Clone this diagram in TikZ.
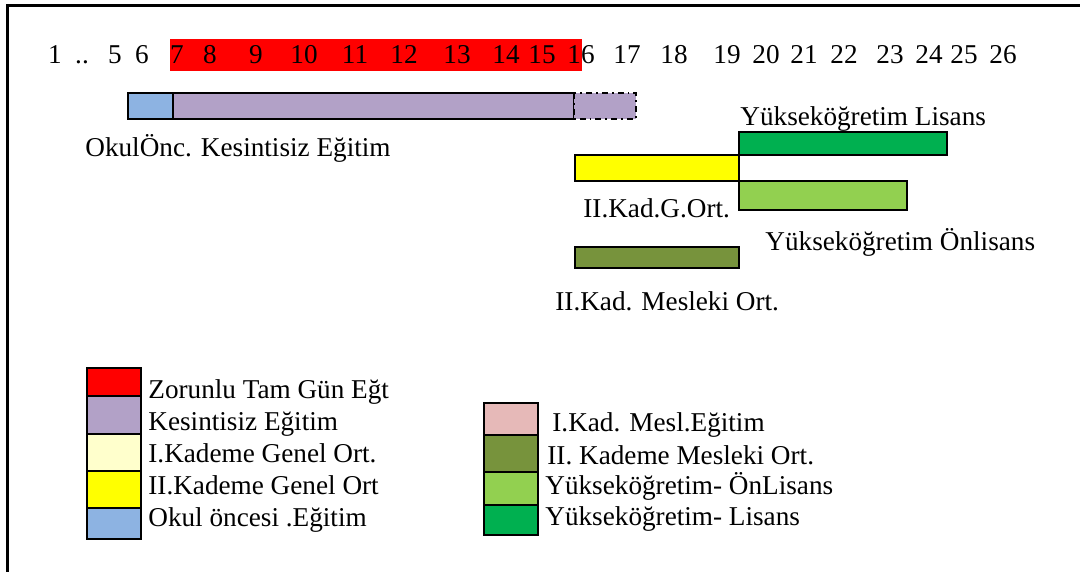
\documentclass[tikz,border=0pt]{standalone}
\usepackage{fontspec}
\setmainfont{Liberation Serif}
\usetikzlibrary{positioning}

\definecolor{zorunlu}{HTML}{FF0000}
\definecolor{kesintisiz}{HTML}{B2A1C7}
\definecolor{okulonc}{HTML}{8DB3E2}
\definecolor{birkademe}{HTML}{FFFFCC}
\definecolor{ikikademe}{HTML}{FFFF00}
\definecolor{birmesl}{HTML}{E6B9B8}
\definecolor{ikimesl}{HTML}{77933C}
\definecolor{onlisans}{HTML}{92D050}
\definecolor{lisans}{HTML}{00B050}

\begin{document}
\begin{tikzpicture}[x=0.5pt,y=-0.5pt,font=\fontsize{13.6}{16}\selectfont]
  \tikzstyle{bar}=[draw=black,line width=1pt]
  \tikzstyle{key}=[draw=black,line width=1.4pt]
  \tikzstyle{lbl}=[inner sep=0pt,anchor=base west]
  \tikzstyle{age}=[inner sep=0pt,anchor=base]

  \useasboundingbox (0,0) rectangle (1080,572);
  \draw[line width=1.5pt] (1080,6) -- (7,6) -- (7,572);

  % ages
  \fill[zorunlu] (170,39) rectangle (582,71);
  \foreach \n/\x [count=\i] in {1/55,../82,5/115,6/142,7/177,8/210,9/256,10/304,
      11/355,12/404,13/457,14/506,15/542,16/581,17/627,18/674,19/727,20/766,
      21/804,22/844,23/890,24/929,25/964,26/1003}
    \node[age] (age\i) at (\x,64) {\n};

  % bars
  \draw[bar,fill=okulonc] (128,93) rectangle (173,119);
  \draw[bar,fill=kesintisiz] (173,93) rectangle (574,119);
  \fill[kesintisiz] (574,93) rectangle (636,119);
  \draw[line width=0.9pt,dash dot] (574,93) rectangle (636,119);
  \node[lbl] (kesLbl) at (85,157) {OkulÖnc. Kesintisiz Eğitim};

  \draw[bar,fill=lisans] (739,132) rectangle (947,155);
  \draw[bar,fill=ikikademe] (575,155) rectangle (739,181);
  \draw[bar,fill=onlisans] (739,181) rectangle (907,210);
  \draw[bar,fill=ikimesl] (575,247) rectangle (739,268);
  \node[lbl] (lisLbl) at (740,126) {Yükseköğretim Lisans};
  \node[lbl] (gortLbl) at (583,218) {II.Kad.G.Ort.};
  \node[lbl] (onlLbl) at (765,250) {Yükseköğretim Önlisans};
  \node[lbl] (meslLbl) at (555,310) {II.Kad. Mesleki Ort.};

  % legend
  \foreach \c/\t/\b/\txt/\y [count=\i] in {
      zorunlu/368/396/{Zorunlu Tam Gün Eğt}/398,
      kesintisiz/396/434/{Kesintisiz Eğitim}/430,
      birkademe/434/471/{I.Kademe Genel Ort.}/462,
      ikikademe/471/508/{II.Kademe Genel Ort}/494,
      okulonc/508/539/{Okul öncesi .Eğitim}/526} {
    \draw[key,fill=\c] (87,\t) rectangle (141,\b);
    \node[lbl] (keyL\i) at (148,\y) {\txt};
  }
  \foreach \c/\t/\b/\txt/\x/\y [count=\i] in {
      birmesl/403/435/{I.Kad. Mesl.Eğitim}/552/431,
      ikimesl/435/472/{II. Kademe Mesleki Ort.}/547/464,
      onlisans/472/505/{Yükseköğretim- ÖnLisans}/545/494,
      lisans/505/535/{Yükseköğretim- Lisans}/545/525} {
    \draw[key,fill=\c] (484,\t) rectangle (538,\b);
    \node[lbl] (keyR\i) at (\x,\y) {\txt};
  }
\end{tikzpicture}
\end{document}
